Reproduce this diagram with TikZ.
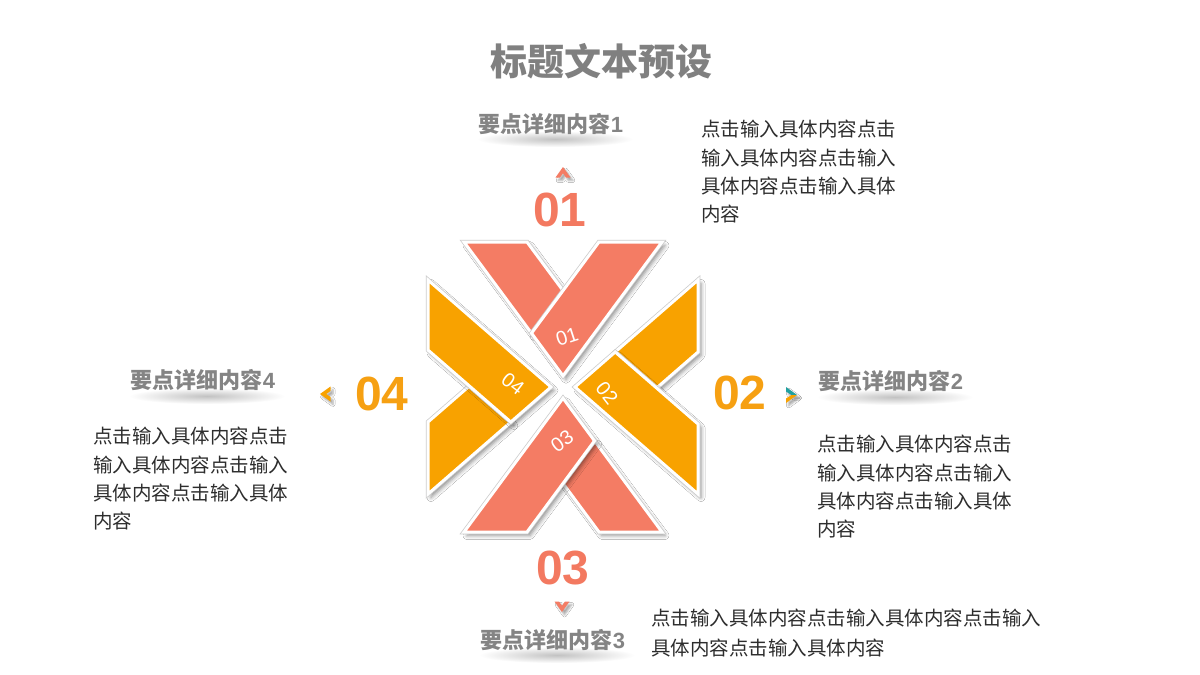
\documentclass[tikz,border=0pt]{standalone}
\usepackage{fontspec}
\setmainfont{Noto Sans CJK SC}
\newfontfamily\numfont{Liberation Sans}
\usetikzlibrary{shadows.blur}
\definecolor{salm}{RGB}{244,124,100}
\definecolor{oran}{RGB}{248,162,0}
\definecolor{salmtxt}{RGB}{243,121,96}
\definecolor{orantxt}{RGB}{246,160,18}
\definecolor{tealc}{RGB}{32,160,160}
\definecolor{headgray}{RGB}{132,132,132}
\definecolor{titlegray}{RGB}{128,128,128}
\definecolor{bodygray}{RGB}{45,45,45}
\tikzset{
  edgeS/.style={draw=black!20, line width=4.5pt, line join=miter,
    blur shadow={shadow xshift=3pt, shadow yshift=-3.5pt, shadow blur radius=4pt, shadow opacity=45}},
  armlabel/.style={text=white, font=\numfont\fontsize{20}{20}\selectfont, inner sep=0pt},
  bignum/.style={font=\numfont\bfseries\fontsize{48}{48}\selectfont, inner sep=0pt},
  headtxt/.style={text=headgray, font=\bfseries\fontsize{22}{24}\selectfont, inner sep=0pt},
  bodytxt/.style={text=bodygray, font=\fontsize{19.5}{28.4}\selectfont, align=left, anchor=north west, inner sep=0pt},
  chevS/.style={blur shadow={shadow xshift=2.5pt, shadow yshift=-3pt, shadow blur radius=2pt, shadow opacity=35}},
  hshadow/.style={inner color=black!24, outer color=white},
}
\newcommand\myarm[2]{\path[edgeS] #2; \path[fill=#1, draw=white, line width=3pt, line join=miter] #2;}
\begin{document}
\begin{tikzpicture}[x=1pt,y=-1pt]
\useasboundingbox[fill=white] (0,0) rectangle (1200,675);

% central figure
\begin{scope}[shift={(563,387)}]
  % top (01)
  \myarm{salm}{(-99,-145) -- (-36,-145) -- (0,-96.4) -- (-31.5,-53.8) -- cycle}
  \myarm{salm}{(36,-145) -- (99,-145) -- (0,-11.2) -- (-31.5,-53.8) -- cycle}
  % right (02)
  \myarm{oran}{(135,-107) -- (135,-35) -- (93.6,1) -- (52.2,-35) -- cycle}
  \myarm{oran}{(52.2,-35) -- (135,37) -- (135,107) -- (12,0) -- cycle}
  % bottom (03)
  \myarm{salm}{(99,145) -- (36,145) -- (0,96.4) -- (31.5,53.8) -- cycle}
  \myarm{salm}{(-36,145) -- (-99,145) -- (0,11.2) -- (31.5,53.8) -- cycle}
  % left (04)
  \myarm{oran}{(-135,107) -- (-135,35) -- (-93.6,-1) -- (-52.2,35) -- cycle}
  \myarm{oran}{(-52.2,35) -- (-135,-37) -- (-135,-107) -- (-12,0) -- cycle}
\end{scope}

\node[armlabel, rotate=18]  (l1) at (567,337) {01};
\node[armlabel, rotate=-52] (l2) at (607,393) {02};
\node[armlabel, rotate=36]  (l3) at (562,441) {03};
\node[armlabel, rotate=-37] (l4) at (513,384) {04};

% title
\node[text=titlegray, font=\bfseries\fontsize{37}{40}\selectfont, inner sep=0pt] (title) at (601,61) {标题文本预设};

% heading shadows
\shade[hshadow] (555,139) ellipse (78 and 8);
\shade[hshadow] (895,397) ellipse (78 and 8);
\shade[hshadow] (557,655) ellipse (78 and 8);
\shade[hshadow] (207,396) ellipse (78 and 8);

% headings
\node[headtxt] (h1) at (551,124) {要点详细内容{\numfont\bfseries 1}};
\node[headtxt] (h2) at (891,381) {要点详细内容{\numfont\bfseries 2}};
\node[headtxt] (h3) at (553,640) {要点详细内容{\numfont\bfseries 3}};
\node[headtxt] (h4) at (203,380) {要点详细内容{\numfont\bfseries 4}};

% big numbers
\node[bignum, text=salmtxt] (n1) at (560,210) {01};
\node[bignum, text=orantxt] (n2) at (740,393) {02};
\node[bignum, text=salmtxt] (n3) at (563,568) {03};
\node[bignum, text=orantxt] (n4) at (382,394) {04};

% chevrons
\path[chevS, fill=salm] (555.5,177.5) -- (563,167) -- (570.5,177.5) -- (566,177.5) -- (563,173.2) -- (560,177.5) -- cycle;
\path[chevS, fill=salm] (554.5,601.5) -- (562,612) -- (569.5,601.5) -- (565,601.5) -- (562,605.8) -- (559,601.5) -- cycle;
\path[chevS, fill=oran] (330.5,386.5) -- (320,394) -- (330.5,401.5) -- (330.5,397) -- (326.2,394) -- (330.5,391) -- cycle;
\path[chevS, fill=tealc] (786,387) -- (797,395) -- (791.5,395) -- (786,391.5) -- cycle;
\path[chevS, fill=oran] (797,395) -- (786,403) -- (786,398.5) -- (791.5,395) -- cycle;

% body texts
\node[bodytxt] (b1) at (701,120) {点击输入具体内容点击\\输入具体内容点击输入\\具体内容点击输入具体\\内容};
\node[bodytxt] (b2) at (817,435) {点击输入具体内容点击\\输入具体内容点击输入\\具体内容点击输入具体\\内容};
\node[bodytxt] (b4) at (93,427) {点击输入具体内容点击\\输入具体内容点击输入\\具体内容点击输入具体\\内容};
\node[bodytxt, font=\fontsize{19.5}{30}\selectfont] (b3) at (651,609) {点击输入具体内容点击输入具体内容点击输入\\具体内容点击输入具体内容};
\end{tikzpicture}
\end{document}
